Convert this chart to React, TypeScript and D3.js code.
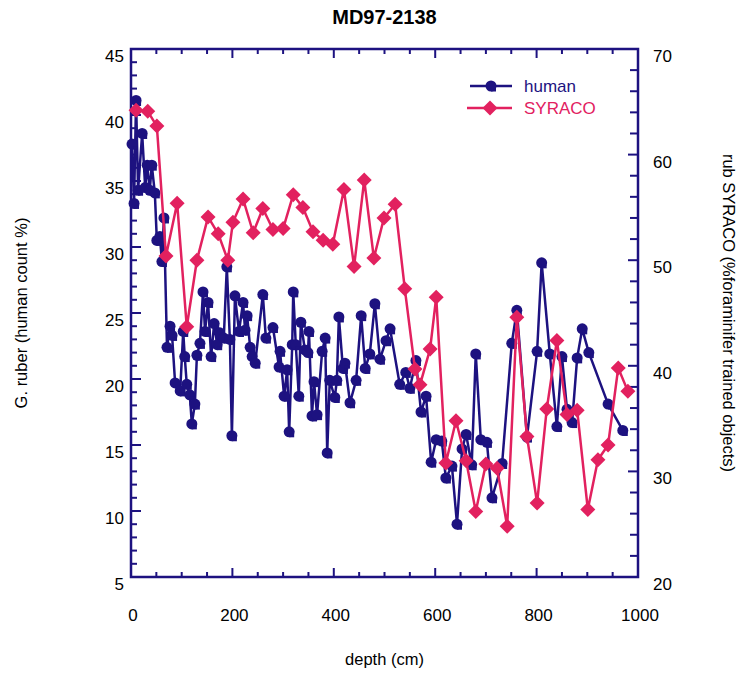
import React from "react";
import * as d3 from "d3";

const humanDepth = [2,6,10,14,22,28,32,37,41,47,51,57,61,65,71,77,81,87,97,103,106,110,116,120,126,130,136,142,146,152,158,164,170,175,183,189,195,199,205,213,221,225,229,235,239,245,260,266,280,292,294,302,308,312,318,320,325,331,335,343,349,351,357,361,367,377,383,387,392,402,406,410,418,422,432,444,454,462,471,481,491,503,511,530,542,550,562,572,582,592,602,613,621,633,643,653,661,672,680,690,702,712,732,751,761,781,801,810,826,840,850,860,870,880,890,903,941,970];
const humanValue = [37.8,33.3,41.1,34.3,38.6,34.5,36.2,34.3,36.2,34.1,30.5,30.8,28.9,32.2,22.4,24.0,23.3,19.7,19.1,23.6,21.7,19.6,18.8,16.6,18.1,21.8,22.7,26.6,23.6,25.8,21.7,24.2,22.6,23.5,23.1,28.5,23.0,15.7,26.3,23.6,25.8,23.7,24.8,22.4,21.7,21.2,26.4,23.1,23.9,20.9,22.1,18.7,20.7,16.0,22.6,26.6,22.6,18.7,24.3,22.2,22.0,23.6,17.2,19.8,17.3,22.1,23.1,14.4,19.9,18.6,19.9,24.7,20.8,21.2,18.2,19.9,24.8,20.8,21.9,25.7,21.5,22.9,23.8,19.6,20.5,19.3,21.4,17.5,18.7,13.7,15.4,15.3,12.5,13.4,9.0,14.7,15.8,13.5,21.9,15.4,15.2,11.0,13.6,22.7,25.2,15.6,22.1,28.8,21.9,16.4,21.7,17.7,16.7,21.6,23.8,22.0,18.1,16.1];

const syracoDepth = [10,33,51,69,91,110,130,152,172,191,201,221,241,260,280,300,320,339,359,379,398,420,440,460,479,499,521,540,560,570,590,602,621,641,661,680,700,722,742,761,781,801,820,840,860,880,901,921,941,961,980];
const syracoValue = [64.2,64.1,62.7,50.4,55.4,43.7,50.0,54.1,52.5,50.0,53.6,55.8,52.6,54.9,52.9,53.0,56.2,55.0,52.7,51.9,51.5,56.7,49.4,57.6,50.2,54.0,55.3,47.3,39.7,38.2,41.6,46.5,30.8,34.8,31.0,26.2,30.7,30.3,24.8,44.6,33.3,27.0,35.9,42.4,35.4,35.8,26.4,31.1,32.5,39.8,37.6];

const xTickLabels = [0, 200, 400, 600, 800, 1000];
const leftTickLabels = [5, 10, 15, 20, 25, 30, 35, 40, 45];
const rightTickLabels = [20, 30, 40, 50, 60, 70];

const NAVY = "#1d1280";
const PINK = "#e2215f";
const FONT = "'Liberation Sans', Arial, sans-serif";

export default function App() {
  const L = 131, R = 638, T = 49, B = 577;
  const x = d3.scaleLinear().domain([0, 1000]).range([L, R]);
  const yL = d3.scaleLinear().domain([5, 45]).range([B, T]);
  const yR = d3.scaleLinear().domain([20, 70]).range([B, T]);

  const human = humanDepth.map((d, i) => [d, humanValue[i]] as [number, number]);
  const syraco = syracoDepth.map((d, i) => [d, syracoValue[i]] as [number, number]);

  const lineH = d3.line<[number, number]>().x(d => x(d[0])).y(d => yL(d[1]));
  const lineS = d3.line<[number, number]>().x(d => x(d[0])).y(d => yR(d[1]));

  const xMinor = d3.range(0, 1001, 50);
  const yLMinor = d3.range(5, 46, 1);
  const yRMinor = d3.range(20, 71, 2);
  const cx = (L + R) / 2;

  const circleMarker = (px: number, py: number, key: any) => (
    <g key={key}>
      <circle cx={px} cy={py} r={5.5} fill={NAVY} />
      <rect x={px} y={py + 2} width={5} height={3.5} fill={NAVY} />
    </g>
  );
  const diamond = (px: number, py: number, key: any) => (
    <path key={key} d={`M${px},${py - 7.5}L${px + 7.5},${py}L${px},${py + 7.5}L${px - 7.5},${py}Z`} fill={PINK} />
  );

  return (
    <svg width={742} height={673} style={{ position: "absolute", left: 0, top: 0, background: "#fff" }} fontFamily={FONT}>
      <text x={cx} y={24} textAnchor="middle" fontSize={20} fontWeight="bold">MD97-2138</text>

      {/* frame */}
      <rect x={L} y={T} width={R - L} height={B - T} fill="none" stroke={NAVY} strokeWidth={2.5} />

      {xMinor.map(v => {
        const major = v % 200 === 0;
        const len = major ? 9 : 5;
        return (
          <g key={"xt" + v}>
            <line x1={x(v)} x2={x(v)} y1={B} y2={B - len} stroke={NAVY} strokeWidth={2} />
            <line x1={x(v)} x2={x(v)} y1={T} y2={T + len} stroke={NAVY} strokeWidth={2} />
          </g>
        );
      })}
      {yLMinor.map(v => {
        const major = v % 5 === 0;
        const len = major ? 10 : 6;
        return <line key={"yl" + v} x1={L} x2={L + len} y1={yL(v)} y2={yL(v)} stroke={NAVY} strokeWidth={2} />;
      })}
      {yRMinor.map(v => {
        const major = v % 10 === 0;
        const len = major ? 10 : 8;
        return <line key={"yr" + v} x1={R} x2={R - len} y1={yR(v)} y2={yR(v)} stroke={NAVY} strokeWidth={2} />;
      })}

      {xTickLabels.map(v => (
        <text key={"xl" + v} x={x(v) + 2} y={621} textAnchor="middle" fontSize={17}>{v}</text>
      ))}
      {leftTickLabels.map(v => (
        <text key={"ll" + v} x={124} y={yL(v) + 13} textAnchor="end" fontSize={17}>{v}</text>
      ))}
      {rightTickLabels.map(v => (
        <text key={"rl" + v} x={653} y={yR(v) + 13} textAnchor="start" fontSize={17}>{v}</text>
      ))}

      <text x={cx} y={665} textAnchor="middle" fontSize={16.5}>depth (cm)</text>
      <text transform={`translate(27,${313}) rotate(-90)`} textAnchor="middle" fontSize={16.5}>G. ruber (human count %)</text>
      <text transform={`translate(723,${313}) rotate(90)`} textAnchor="middle" fontSize={16.5}>rub SYRACO (%foraminifer trained objects)</text>

      <path d={lineH(human) || ""} fill="none" stroke={NAVY} strokeWidth={2.5} strokeLinejoin="round" />
      {human.map((d, i) => circleMarker(x(d[0]), yL(d[1]), "h" + i))}

      <path d={lineS(syraco) || ""} fill="none" stroke={PINK} strokeWidth={2.5} strokeLinejoin="round" />
      {syraco.map((d, i) => diamond(x(d[0]), yR(d[1]), "s" + i))}

      <line x1={470} x2={512} y1={86} y2={86} stroke={NAVY} strokeWidth={2.5} />
      {circleMarker(491, 86, "lh")}
      <text x={524} y={92} fontSize={17} fill={NAVY}>human</text>
      <line x1={467} x2={512} y1={108} y2={108} stroke={PINK} strokeWidth={2.5} />
      {diamond(490, 108, "ls")}
      <text x={524} y={114} fontSize={17} fill={PINK}>SYRACO</text>
    </svg>
  );
}
